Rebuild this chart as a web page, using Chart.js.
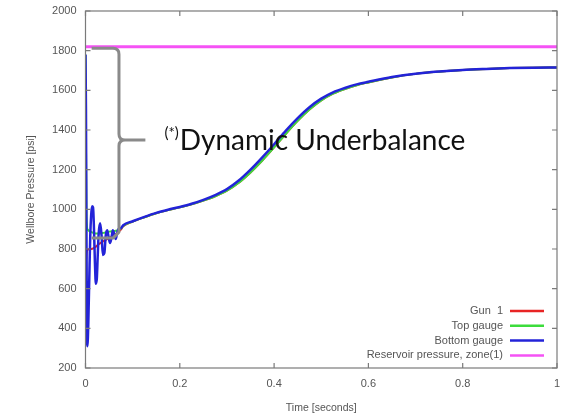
<!DOCTYPE html>
<html>
<head>
<meta charset="utf-8">
<script src="https://cdn.jsdelivr.net/npm/chart.js@4.4.1/dist/chart.umd.min.js"></script>
<style>
  html, body { margin: 0; padding: 0; background: #fff; }
  #wrap { width: 561px; height: 416px; position: relative; }
</style>
</head>
<body>
<div id="wrap"><canvas id="pressChart"></canvas></div>
<script>
// data
var seriesNames = ["Gun  1", "Top gauge", "Bottom gauge", "Reservoir pressure, zone(1)"];
var timeSec = [0, 0.001, 0.002, 0.003, 0.004, 0.006, 0.008, 0.010, 0.012, 0.014,
  0.016, 0.018, 0.020, 0.022, 0.024, 0.026, 0.028, 0.031, 0.034, 0.037,
  0.040, 0.043, 0.046, 0.049, 0.052, 0.055, 0.058, 0.061, 0.064, 0.067,
  0.070, 0.075, 0.080, 0.10, 0.125, 0.15, 0.175, 0.20, 0.225, 0.25,
  0.275, 0.30, 0.325, 0.35, 0.375, 0.40, 0.425, 0.45, 0.475, 0.50,
  0.525, 0.55, 0.575, 0.60, 0.65, 0.70, 0.75, 0.80, 0.85, 0.90,
  0.95, 1.0];
var gunPsi = [1150, 740, 770, 790, 795, 798, 800, 800, 800, 801,
  803, 805, 808, 812, 816, 820, 824, 829, 834, 838,
  842, 846, 850, 854, 858, 862, 866, 870, 875, 880,
  886, 898, 914, 938, 960, 980, 996, 1010, 1025, 1044,
  1066, 1094, 1134, 1186, 1246, 1312, 1381, 1446, 1503, 1549,
  1583, 1607, 1626, 1640, 1665, 1683, 1694, 1702, 1708, 1712,
  1714, 1715];
var topPsi = [1780, 1350, 1000, 920, 900, 895, 890, 888, 886, 884,
  882, 880, 879, 878, 878, 878, 878, 879, 880, 881,
  882, 884, 886, 887, 888, 889, 890, 891, 892, 894,
  897, 903, 916, 938, 960, 980, 996, 1010, 1025, 1044,
  1066, 1094, 1134, 1186, 1246, 1312, 1381, 1446, 1503, 1549,
  1583, 1607, 1626, 1640, 1665, 1683, 1694, 1702, 1708, 1712,
  1714, 1715];
var bottomPsi = [1780, 1500, 900, 420, 310, 430, 650, 860, 970, 1015,
  1010, 900, 730, 625, 650, 770, 880, 930, 870, 770,
  780, 870, 895, 860, 830, 855, 895, 875, 850, 880,
  900, 905, 920, 940, 962, 982, 998, 1012, 1028, 1048,
  1072, 1102, 1145, 1200, 1262, 1328, 1397, 1460, 1515, 1558,
  1590, 1612, 1630, 1643, 1667, 1684, 1695, 1703, 1708, 1712,
  1714, 1715];
var reservoirTime = [0, 1];
var reservoirPsi = [1820, 1820];
var xTicks = [0, 0.2, 0.4, 0.6, 0.8, 1];
var yTicks = [200, 400, 600, 800, 1000, 1200, 1400, 1600, 1800, 2000];

var lineColors = ["#e82424", "#3cdc3c", "#2323d8", "#f552f5"];
var labelFont = "'Liberation Sans', Arial, sans-serif";

function toPoints(xs, ys){
  var pts = [];
  for(var i = 0; i < xs.length; i++){
    pts.push({x: xs[i], y: ys[i]});
  }
  return pts;
}

// gnuplot style frame, inward ticks, legend and the bracket note
var framePlugin = {
  id: "framePlugin",
  afterDatasetsDraw: function(chart){
    var ctx = chart.ctx;
    var a = chart.chartArea;
    var xs = chart.scales.x, ys = chart.scales.y;
    ctx.save();
    ctx.strokeStyle = "#7a7a7a";
    ctx.lineWidth = 1.2;
    ctx.strokeRect(a.left, a.top, a.right - a.left, a.bottom - a.top);
    ctx.beginPath();
    xTicks.forEach(function(v){
      var px = xs.getPixelForValue(v);
      ctx.moveTo(px, a.bottom); ctx.lineTo(px, a.bottom - 5);
      ctx.moveTo(px, a.top); ctx.lineTo(px, a.top + 5);
    });
    yTicks.forEach(function(v){
      var py = ys.getPixelForValue(v);
      ctx.moveTo(a.left, py); ctx.lineTo(a.left + 5, py);
      ctx.moveTo(a.right, py); ctx.lineTo(a.right - 5, py);
    });
    ctx.stroke();

    // legend, text first then line sample
    ctx.font = "11px " + labelFont;
    ctx.textAlign = "right";
    ctx.textBaseline = "middle";
    for(var i = 0; i < seriesNames.length; i++){
      var ly = a.bottom - 57 + i * 14.8;
      ctx.fillStyle = "#555";
      ctx.fillText(seriesNames[i], a.right - 54, ly);
      ctx.strokeStyle = lineColors[i];
      ctx.lineWidth = 2.5;
      ctx.beginPath();
      ctx.moveTo(a.right - 47, ly);
      ctx.lineTo(a.right - 13, ly);
      ctx.stroke();
    }

    // curly bracket in data coordinates
    var xl = xs.getPixelForValue(0.013), xsp = xs.getPixelForValue(0.071), xt = xs.getPixelForValue(0.127);
    var yt = ys.getPixelForValue(1812), ym = ys.getPixelForValue(1350), yb = ys.getPixelForValue(855);
    var r = 6;
    ctx.strokeStyle = "#8a8a8a";
    ctx.lineWidth = 3;
    ctx.lineJoin = "round";
    ctx.beginPath();
    ctx.moveTo(xl, yt);
    ctx.lineTo(xsp - r, yt);
    ctx.quadraticCurveTo(xsp, yt, xsp, yt + r);
    ctx.lineTo(xsp, ym - r);
    ctx.quadraticCurveTo(xsp, ym, xsp + r, ym);
    ctx.lineTo(xt, ym);
    ctx.moveTo(xsp + r, ym);
    ctx.quadraticCurveTo(xsp, ym, xsp, ym + r);
    ctx.lineTo(xsp, yb - r);
    ctx.lineTo(xsp - r, yb);
    ctx.lineTo(xl, yb);
    ctx.stroke();

    // note text
    var tx = xs.getPixelForValue(0.2), ty = ys.getPixelForValue(1300);
    ctx.fillStyle = "#111";
    ctx.textAlign = "left";
    ctx.textBaseline = "alphabetic";
    ctx.font = "15px Lato, 'Open Sans', sans-serif";
    var sup = "(*)";
    var supW = ctx.measureText(sup).width;
    ctx.fillText(sup, tx - supW - 1, ty - 12);
    ctx.font = "28px Lato, 'Open Sans', sans-serif";
    ctx.fillText("Dynamic Underbalance", tx, ty);
    ctx.restore();
  }
};

var chartjs = new Chart(document.getElementById("pressChart"), {
  type: "line",
  data: {
    datasets: [
      { label: seriesNames[0], data: toPoints(timeSec, gunPsi), borderColor: lineColors[0], borderWidth: 2, order: 3 },
      { label: seriesNames[1], data: toPoints(timeSec, topPsi), borderColor: lineColors[1], borderWidth: 2, order: 2 },
      { label: seriesNames[2], data: toPoints(timeSec, bottomPsi), borderColor: lineColors[2], borderWidth: 2.5, order: 1 },
      { label: seriesNames[3], data: toPoints(reservoirTime, reservoirPsi), borderColor: lineColors[3], borderWidth: 3, order: 0 }
    ]
  },
  options: {
    responsive: true,
    maintainAspectRatio: false,
    animation: false,
    elements: {
      point: { radius: 0 },
      line: { tension: 0, cubicInterpolationMode: "monotone", fill: false }
    },
    layout: { padding: { top: 11, right: 4, left: 0, bottom: 0 } },
    plugins: {
      legend: { display: false },
      tooltip: { enabled: false }
    },
    scales: {
      x: {
        type: "linear",
        min: 0, max: 1,
        afterFit: function(scale){ scale.height = 48; scale.paddingLeft = 0; scale.paddingRight = 0; },
        afterBuildTicks: function(scale){ scale.ticks = xTicks.map(function(v){ return {value: v}; }); },
        grid: { display: false, drawTicks: false },
        border: { display: false },
        ticks: { color: "#555", font: { size: 11, family: labelFont }, padding: 9,
          callback: function(v){ return String(v); } },
        title: { display: true, text: "Time [seconds]", color: "#555",
          font: { size: 10.5, family: labelFont }, padding: { top: 0, bottom: 2 } }
      },
      y: {
        type: "linear",
        min: 200, max: 2000,
        afterFit: function(scale){ scale.width = 85.5; scale.paddingTop = 0; scale.paddingBottom = 0; },
        afterBuildTicks: function(scale){ scale.ticks = yTicks.map(function(v){ return {value: v}; }); },
        grid: { display: false, drawTicks: false },
        border: { display: false },
        ticks: { color: "#555", font: { size: 11, family: labelFont }, padding: 9,
          callback: function(v){ return String(v); } },
        title: { display: true, text: "Wellbore Pressure [psi]", color: "#555",
          font: { size: 10.5, family: labelFont }, padding: { top: 25, bottom: 0 } }
      }
    }
  },
  plugins: [framePlugin]
});
</script>
</body>
</html>
